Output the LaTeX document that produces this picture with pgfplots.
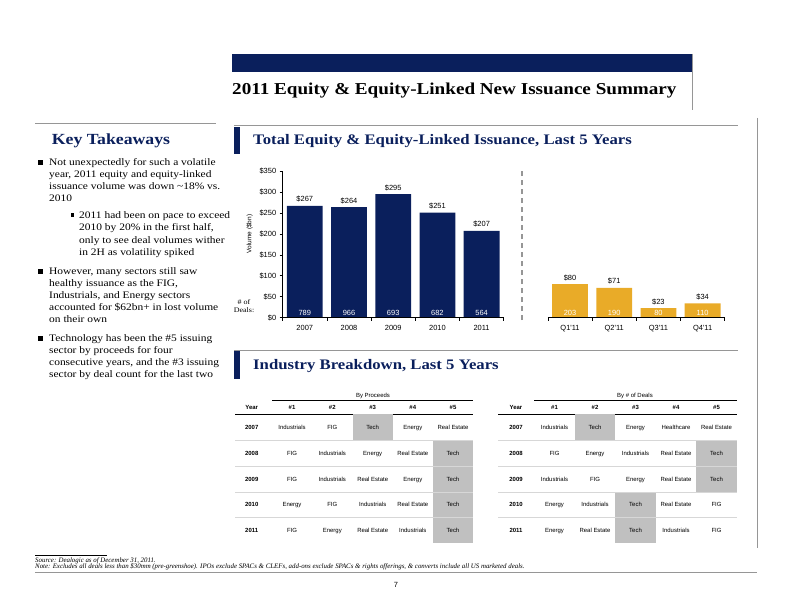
\documentclass[border=0pt]{standalone}
\usepackage{fontspec}
\setmainfont{Liberation Serif}
\newfontfamily\pal[FakeStretch=1.15]{Liberation Serif}
\newfontfamily\ar{Liberation Sans}
\usepackage{pgfplots}
\pgfplotsset{compat=1.18}
\definecolor{navy}{RGB}{10,31,92}
\definecolor{gold}{RGB}{233,171,40}
\definecolor{cellgray}{RGB}{192,192,192}
\definecolor{linegray}{RGB}{150,150,150}
\definecolor{sepgray}{RGB}{215,215,215}
\newcommand\bodyf{\pal\fontsize{10}{12}\selectfont}
\newcommand\tl[3]{\node[anchor=base west,inner sep=0pt,font=\bodyf] at (#1,#2) {#3};}
\newcommand\tabf{\ar\fontsize{6}{7}\selectfont}
\newcommand\tabb{\ar\bfseries\fontsize{6}{7}\selectfont}
\tikzset{tc/.style={inner sep=0pt,text height=4.4bp,text depth=1.3bp}}
\begin{document}
\begin{tikzpicture}
\begin{scope}[x=1bp,y=-1bp]
\path[use as bounding box] (0,0) rectangle (792,612);
% ---- page header
\fill[navy] (232,54) rectangle (692,72);
\draw[linegray,line width=1bp] (692,54) -- (692,110);
\node[anchor=base west,inner sep=0pt,font=\pal\bfseries\fontsize{16.7}{18}\selectfont] at (232,95) {2011 Equity \& Equity-Linked New Issuance Summary};
% right vertical rule
\draw[linegray,line width=1bp] (757,118) -- (757,548);
% ---- left panel
\draw[linegray,line width=1bp] (35,124) -- (216,124);
\node[font=\pal\bfseries\fontsize{15.5}{17}\selectfont,text=navy,inner sep=0pt] at (111,140.5) {Key Takeaways};
\fill (38,160.5) rectangle (43,165.5);
\tl{49}{166}{Not unexpectedly for such a volatile}
\tl{49}{178}{year, 2011 equity and equity-linked}
\tl{49}{190}{issuance volume was down \textasciitilde18\% vs.}
\tl{49}{202}{2010}
\fill (70.5,213.5) rectangle (74,217);
\tl{79}{219}{2011 had been on pace to exceed}
\tl{79}{231}{2010 by 20\% in the first half,}
\tl{79}{243}{only to see deal volumes wither}
\tl{79}{255}{in 2H as volatility spiked}
\fill (38,268.5) rectangle (43,273.5);
\tl{49}{274}{However, many sectors still saw}
\tl{49}{286}{healthy issuance as the FIG,}
\tl{49}{298}{Industrials, and Energy sectors}
\tl{49}{310}{accounted for \$62bn+ in lost volume}
\tl{49}{322}{on their own}
\fill (38,335.5) rectangle (43,340.5);
\tl{49}{341}{Technology has been the \#5 issuing}
\tl{49}{353}{sector by proceeds for four}
\tl{49}{365}{consecutive years, and the \#3 issuing}
\tl{49}{377}{sector by deal count for the last two}
% ---- section headers
\draw[linegray,line width=1bp] (234,126) -- (738,126);
\fill[navy] (234,127) rectangle (240,154);
\node[anchor=base west,inner sep=0pt,font=\pal\bfseries\fontsize{14.6}{16}\selectfont,text=navy] at (253,145) {Total Equity \& Equity-Linked Issuance, Last 5 Years};
\draw[linegray,line width=1bp] (234,350) -- (738,350);
\fill[navy] (234,351) rectangle (240,379);
\node[anchor=base west,inner sep=0pt,font=\pal\bfseries\fontsize{14.6}{16}\selectfont,text=navy] at (253,369) {Industry Breakdown, Last 5 Years};
\node[align=center,inner sep=0pt,font=\pal\fontsize{7}{8.5}\selectfont] at (244,306) {\# of\\Deals:};
% ---- tables
% left table
\node[tc,font=\tabf] at (373,396) {By Proceeds};
\draw[black,line width=0.7bp] (272,400) -- (473,400);
\draw[black,line width=0.7bp] (235,414) -- (473,414);
\fill[cellgray] (352.7,414) rectangle (392.7,440.5);
\fill[cellgray] (433,440.5) rectangle (473,543);
\foreach \yy in {440.5,466.5,492,517.5} {\draw[sepgray,line width=0.8bp] (235,\yy) -- (473,\yy);}
\foreach \xx/\tt in {251.7/Year,292/\#1,332.3/\#2,372.7/\#3,412.8/\#4,453/\#5} {\node[tc,font=\tabb] at (\xx,408) {\tt};}
\foreach \yy/\yr/\a/\b/\c/\d/\e in {
  427.5/2007/Industrials/FIG/Tech/Energy/Real Estate,
  453.5/2008/FIG/Industrials/Energy/Real Estate/Tech,
  479.5/2009/FIG/Industrials/Real Estate/Energy/Tech,
  505/2010/Energy/FIG/Industrials/Real Estate/Tech,
  530.5/2011/FIG/Energy/Real Estate/Industrials/Tech} {
  \node[tc,font=\tabb] at (251.7,\yy) {\yr};
  \node[tc,font=\tabf] at (292,\yy) {\a};
  \node[tc,font=\tabf] at (332.3,\yy) {\b};
  \node[tc,font=\tabf] at (372.7,\yy) {\c};
  \node[tc,font=\tabf] at (412.8,\yy) {\d};
  \node[tc,font=\tabf] at (453,\yy) {\e};
}
% right table
\node[tc,font=\tabf] at (635,396) {By \# of Deals};
\draw[black,line width=0.7bp] (534.3,400) -- (736.7,400);
\draw[black,line width=0.7bp] (498,414) -- (736.7,414);
\fill[cellgray] (574.8,414) rectangle (615.3,440.5);
\fill[cellgray] (696.3,440.5) rectangle (736.7,492);
\fill[cellgray] (615.3,492) rectangle (655.8,543);
\foreach \yy in {440.5,466.5,492,517.5} {\draw[sepgray,line width=0.8bp] (498,\yy) -- (736.7,\yy);}
\foreach \xx/\tt in {516/Year,554.5/\#1,595/\#2,635.5/\#3,676/\#4,716.5/\#5} {\node[tc,font=\tabb] at (\xx,408) {\tt};}
\foreach \yy/\yr/\a/\b/\c/\d/\e in {
  427.5/2007/Industrials/Tech/Energy/Healthcare/Real Estate,
  453.5/2008/FIG/Energy/Industrials/Real Estate/Tech,
  479.5/2009/Industrials/FIG/Energy/Real Estate/Tech,
  505/2010/Energy/Industrials/Tech/Real Estate/FIG,
  530.5/2011/Energy/Real Estate/Tech/Industrials/FIG} {
  \node[tc,font=\tabb] at (516,\yy) {\yr};
  \node[tc,font=\tabf] at (554.5,\yy) {\a};
  \node[tc,font=\tabf] at (595,\yy) {\b};
  \node[tc,font=\tabf] at (635.5,\yy) {\c};
  \node[tc,font=\tabf] at (676,\yy) {\d};
  \node[tc,font=\tabf] at (716.5,\yy) {\e};
}
% ---- footer
\draw[black,line width=0.5bp] (35,555) -- (107,555);
\node[anchor=base west,inner sep=0pt,font=\itshape\fontsize{6.9}{7}\selectfont] at (35,562) {Source: Dealogic as of December 31, 2011.};
\node[anchor=base west,inner sep=0pt,font=\itshape\fontsize{6.9}{7}\selectfont] at (35,568.5) {Note: Excludes all deals less than \$30mm (pre-greenshoe). IPOs exclude SPACs \& CLEFs, add-ons exclude SPACs \& rights offerings, \& converts include all US marketed deals.};
\draw[linegray,line width=1.5bp] (35,572.5) -- (757,572.5);
\node[font=\ar\fontsize{7.5}{8}\selectfont] at (396,585) {7};
\end{scope}
% ---- chart
\begin{axis}[
  at={(282.7bp,-317.7bp)}, anchor=south west,
  scale only axis, width=442bp, height=146.7bp,
  xmin=-0.5, xmax=9.5, ymin=0, ymax=350,
  /pgf/number format/assume math mode=true,
  axis x line*=bottom, axis y line*=left,
  x axis line style={draw=none},
  y axis line style={black,line width=0.6pt},
  xtick={0,1,2,3,4,6,7,8,9},
  xticklabels={2007,2008,2009,2010,2011,Q1'11,Q2'11,Q3'11,Q4'11},
  minor xtick={-0.5,0.5,1.5,2.5,3.5,4.5,5.5,6.5,7.5,8.5,9.5},
  major x tick style={draw=none},
  minor x tick style={black,line width=0.6pt},
  minor tick length=3bp,
  major tick length=3bp,
  tick align=outside,
  ytick={0,50,...,350},
  yticklabels={\$0,\$50,\$100,\$150,\$200,\$250,\$300,\$350},
  major y tick style={black,line width=0.6pt},
  tick label style={font=\ar\fontsize{7.5}{8}\selectfont},
  xticklabel style={yshift=-1.5bp},
  ylabel={Volume (\$bn)},
  ylabel style={font=\ar\fontsize{6.5}{7}\selectfont,at={(ticklabel cs:0.57)}},
  clip=false,
]
\addplot[ybar,bar width=0.81,fill=navy,draw=none,
  nodes near coords={\$\pgfmathprintnumber{\pgfplotspointmeta}},
  nodes near coords style={black,font=\ar\fontsize{7.5}{8}\selectfont}]
  coordinates {(0,267) (1,264) (2,295) (3,251) (4,207)};
\addplot[ybar,bar width=0.81,fill=gold,draw=none,
  nodes near coords={\$\pgfmathprintnumber{\pgfplotspointmeta}},
  nodes near coords style={black,font=\ar\fontsize{7.5}{8}\selectfont}]
  coordinates {(6,80) (7,71) (8,23) (9,34)};
\addplot[draw=none,mark=none,nodes near coords,point meta=explicit symbolic,
  nodes near coords style={white,anchor=south,inner sep=1.5bp,font=\ar\fontsize{7.5}{8}\selectfont}]
  coordinates {(0,0)[789] (1,0)[966] (2,0)[693] (3,0)[682] (4,0)[564]
               (6,0)[203] (7,0)[190] (8,0)[80] (9,0)[110]};
\draw[black,line width=0.6pt] (axis cs:-0.5,0) -- (axis cs:4.5,0);
\draw[black,line width=0.6pt] (axis cs:5.5,0) -- (axis cs:9.5,0);
\draw[linegray,line width=1.6bp,dash pattern=on 5bp off 4bp] (axis cs:4.92,-6) -- (axis cs:4.92,357);
\end{axis}
\end{tikzpicture}
\end{document}
